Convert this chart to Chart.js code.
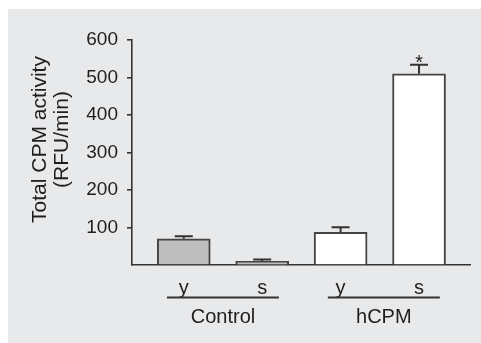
<!DOCTYPE html>
<html>
<head>
<meta charset="utf-8">
<script src="https://cdn.jsdelivr.net/npm/chart.js@4"></script>
<style>
  html, body { margin: 0; padding: 0; background: #fff; }
  #panel { position: absolute; left: 8px; top: 9px; width: 473px; height: 334px; background: #e8e9eb; }
  #chart { position: absolute; left: 0; top: 0; }
</style>
</head>
<body>
<div id="panel"></div>
<canvas id="chart" width="481" height="343"></canvas>
<script>
/* ===== DATA ===== */
const categories = ["y", "s", "y", "s"];
const groups = ["Control", "hCPM"];
const groupOf = [0, 0, 1, 1];
const values = [70, 10, 87, 510];
const errors = [7, 5, 14, 24];
const marks = ["", "", "", "*"];
const yTitle = ["Total CPM activity", "(RFU/min)"];
const yMax = 600;
const yStep = 100;

/* ===== STYLE ===== */
const FONT = "'Liberation Sans', Arial, Helvetica, sans-serif";
const INK = "#1e1e1e";
const LINE = "#333";
const groupFill = ["#bebebe", "#ffffff"];

/* ===== PLUGINS ===== */
const errorBars = {
  id: "errorBars",
  afterDatasetsDraw(chart) {
    const { ctx, scales: { x, y } } = chart;
    ctx.save();
    ctx.strokeStyle = LINE;
    ctx.lineWidth = 2;
    values.forEach((v, i) => {
      const px = x.getPixelForValue(i);
      const y0 = y.getPixelForValue(v);
      const y1 = y.getPixelForValue(v + errors[i]);
      ctx.beginPath();
      ctx.moveTo(px, y0);
      ctx.lineTo(px, y1);
      ctx.moveTo(px - 9, y1);
      ctx.lineTo(px + 9, y1);
      ctx.stroke();
      if (marks[i]) {
        ctx.fillStyle = INK;
        ctx.font = "20px " + FONT;
        ctx.textAlign = "center";
        ctx.textBaseline = "alphabetic";
        ctx.fillText(marks[i], px, y1 + 4);
      }
    });
    ctx.restore();
  }
};

const groupLabels = {
  id: "groupLabels",
  afterDraw(chart) {
    const { ctx, chartArea, scales: { x } } = chart;
    ctx.save();
    ctx.strokeStyle = LINE;
    ctx.lineWidth = 2;
    ctx.fillStyle = INK;
    ctx.font = "20px " + FONT;
    ctx.textAlign = "center";
    ctx.textBaseline = "alphabetic";
    groups.forEach((g, gi) => {
      const idx = groupOf.map((v, i) => v === gi ? i : -1).filter(i => i >= 0);
      const mid = (x.getPixelForValue(idx[0]) + x.getPixelForValue(idx[idx.length - 1])) / 2 + gi * 4;
      const ly = chartArea.bottom + 32.5;
      ctx.beginPath();
      ctx.moveTo(mid - 56, ly);
      ctx.lineTo(mid + 56, ly);
      ctx.stroke();
      ctx.fillText(g, mid, chartArea.bottom + 58);
    });

    // y axis title, two rotated lines
    ctx.font = "21px " + FONT;
    ctx.translate(chartArea.left - 81, (chartArea.top + chartArea.bottom) / 2 - 13);
    ctx.rotate(-Math.PI / 2);
    ctx.textBaseline = "middle";
    ctx.fillText(yTitle[0], 0, -11);
    ctx.fillText(yTitle[1], 0, 11);
    ctx.restore();
  }
};

/* ===== CHART ===== */
new Chart(document.getElementById("chart"), {
  type: "bar",
  data: {
    datasets: [{
      data: values.map((v, i) => ({ x: i, y: v })),
      backgroundColor: groupOf.map(g => groupFill[g]),
      borderColor: "#444",
      borderWidth: 2,
      barThickness: 53
    }]
  },
  options: {
    responsive: false,
    animation: false,
    layout: { padding: { top: 40, right: 11, left: 0, bottom: 0 } },
    plugins: { legend: { display: false }, tooltip: { enabled: false } },
    scales: {
      x: {
        type: "linear",
        min: -0.66,
        max: 3.65,
        offset: false,
        grid: { display: false, drawTicks: false, offset: false },
        border: { display: true, color: LINE, width: 1.6 },
        afterBuildTicks: s => { s.ticks = categories.map((c, i) => ({ value: i })); },
        afterFit: s => { s.height = 78; },
        ticks: {
          autoSkip: false,
          maxRotation: 0,
          padding: 11,
          color: INK,
          font: { family: FONT, size: 20 },
          callback: v => categories[v]
        }
      },
      y: {
        min: 0,
        max: yMax,
        grid: {
          drawOnChartArea: false,
          tickLength: 5,
          lineWidth: 1.6,
          color: c => c.tick && c.tick.value === 0 ? "rgba(0,0,0,0)" : LINE
        },
        border: { display: true, color: LINE, width: 1.6 },
        afterFit: s => { s.width = 132; },
        ticks: {
          stepSize: yStep,
          padding: 9,
          color: INK,
          font: { family: FONT, size: 19 },
          callback: v => v === 0 ? "" : v
        }
      }
    }
  },
  plugins: [errorBars, groupLabels]
});
</script>
</body>
</html>
